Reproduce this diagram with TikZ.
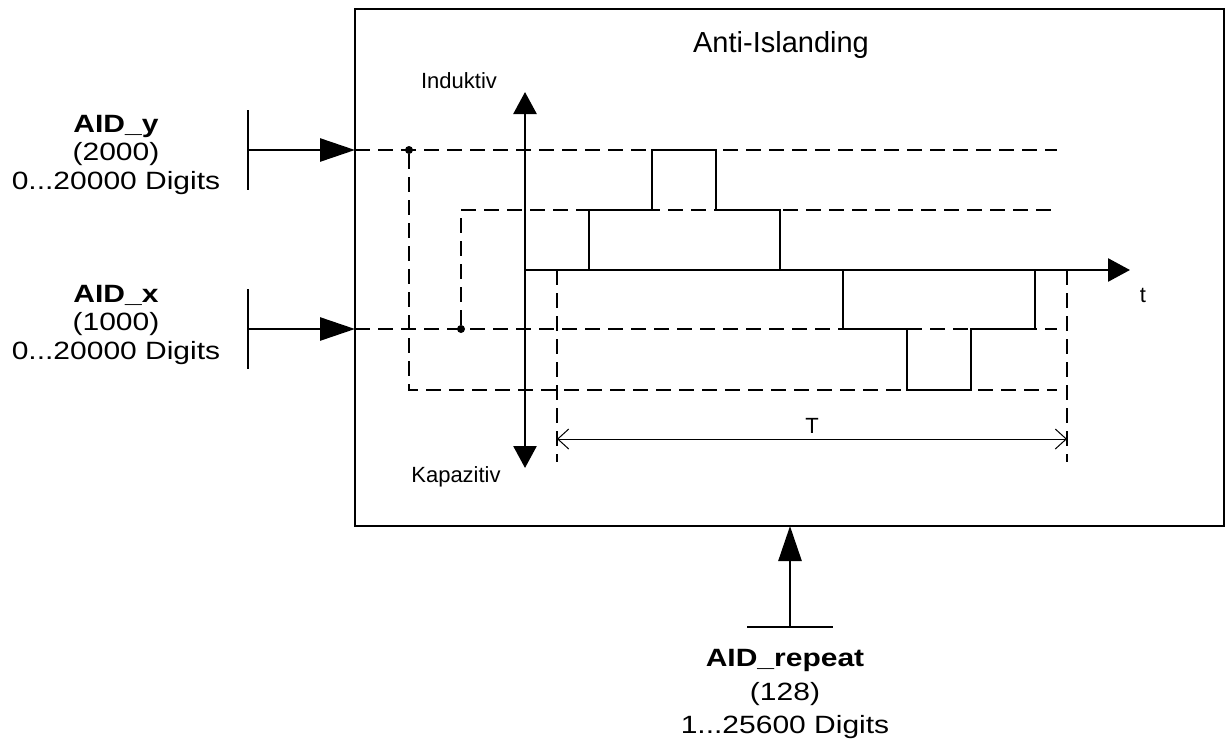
\documentclass[tikz,border=0pt]{standalone}
\usepackage{fontspec}
\setmainfont{Liberation Sans}
\newfontfamily\widesans[FakeStretch=1.2]{Liberation Sans}
\usetikzlibrary{arrows.meta}

\begin{document}
\begin{tikzpicture}[x=1pt,y=-1pt]
	\tikzstyle{frame}=[line width=2.7pt]
	\tikzstyle{guide}=[line width=1.7pt,dash pattern=on 15pt off 8pt]
	\tikzstyle{feed}=[line width=2.7pt,-{Triangle[length=35pt,width=23pt]}]
	\tikzstyle{dot}=[circle,fill=black,inner sep=0pt,minimum size=8pt]
	\tikzstyle{small}=[font=\fontsize{22}{26}\selectfont,anchor=base]
	\tikzstyle{sig}=[font=\widesans\fontsize{25}{29}\selectfont,anchor=base]
	\useasboundingbox (0,0) rectangle (1225,742);
	% block
	\draw[frame] (355,9) rectangle (1224.5,526);
	\node[font=\fontsize{29}{33}\selectfont,anchor=base](title) at (781,52) {Anti-Islanding};
	% inputs
	\coordinate (ytap) at (248,150);
	\coordinate (yport) at (355,150);
	\coordinate (xtap) at (248,329);
	\coordinate (xport) at (355,329);
	\coordinate (rtap) at (790,627);
	\coordinate (rport) at (790,526);
	\draw[frame] (248,110) -- (248,190);
	\draw[frame] (248,289) -- (248,369);
	\draw[frame] (747,627) -- (833,627);
	\draw[feed] (ytap) -- (yport);
	\draw[feed] (xtap) -- (xport);
	\draw[feed] (rtap) -- (rport);
	\node[sig](yname) at (116,132) {\bfseries AID\_y};
	\node[sig](yval) at (116,160) {(2000)};
	\node[sig](yrange) at (116,189) {0...20000 Digits};
	\node[sig](xname) at (116,302) {\bfseries AID\_x};
	\node[sig](xval) at (116,330) {(1000)};
	\node[sig](xrange) at (116,359) {0...20000 Digits};
	\node[sig](rname) at (785,666) {\bfseries AID\_repeat};
	\node[sig](rval) at (785,700) {(128)};
	\node[sig](rrange) at (785,733) {1...25600 Digits};
	% levels
	\node[dot](ydot) at (409,150) {};
	\node[dot](xdot) at (461,329) {};
	\coordinate (yend) at (1057,150);
	\coordinate (xhi) at (461,210);
	\coordinate (xhiend) at (1057,210);
	\coordinate (xend) at (1057,329);
	\coordinate (ylo) at (409,390);
	\coordinate (yloend) at (1057,390);
	\draw[guide] (yport) -- (yend);
	\draw[guide] (xport) -- (xend);
	\draw[guide] (xdot) -- (xhi) -- (xhiend);
	\draw[guide] (ydot) -- (ylo) -- (yloend);
	% axes
	\coordinate (origin) at (525,270);
	\coordinate (ind) at (525,92);
	\coordinate (kap) at (525,468);
	\coordinate (tend) at (1130,270);
	\draw[frame,{Triangle[length=22pt,width=23pt]}-{Triangle[length=22pt,width=23pt]}] (kap) -- (ind);
	\draw[frame,-{Triangle[length=22pt,width=23pt]}] (origin) -- (tend);
	\node[small](induktiv) at (459,88) {Induktiv};
	\node[small](kapazitiv) at (456,482) {Kapazitiv};
	\node[small](tlabel) at (1143,302) {t};
	% signal
	\draw[frame] (589,270) |- (652,210) |- (716,150) |- (780,210) -- (780,270);
	\draw[frame] (843,270) |- (907,329) |- (971,390) |- (1035,329) -- (1035,270);
	% period
	\coordinate (tstart) at (557,270);
	\coordinate (tstop) at (1067,270);
	\coordinate (tstartlo) at (557,462);
	\coordinate (tstoplo) at (1067,462);
	\coordinate (tl) at (557,439);
	\coordinate (tr) at (1067,439);
	\draw[guide] (tstart) -- (tstartlo);
	\draw[guide] (tstop) -- (tstoplo);
	\draw[line width=1pt,{Straight Barb[length=11pt,width=20pt]}-{Straight Barb[length=11pt,width=20pt]}] (tl) -- (tr);
	\node[small](period) at (812,433) {T};
\end{tikzpicture}
\end{document}
